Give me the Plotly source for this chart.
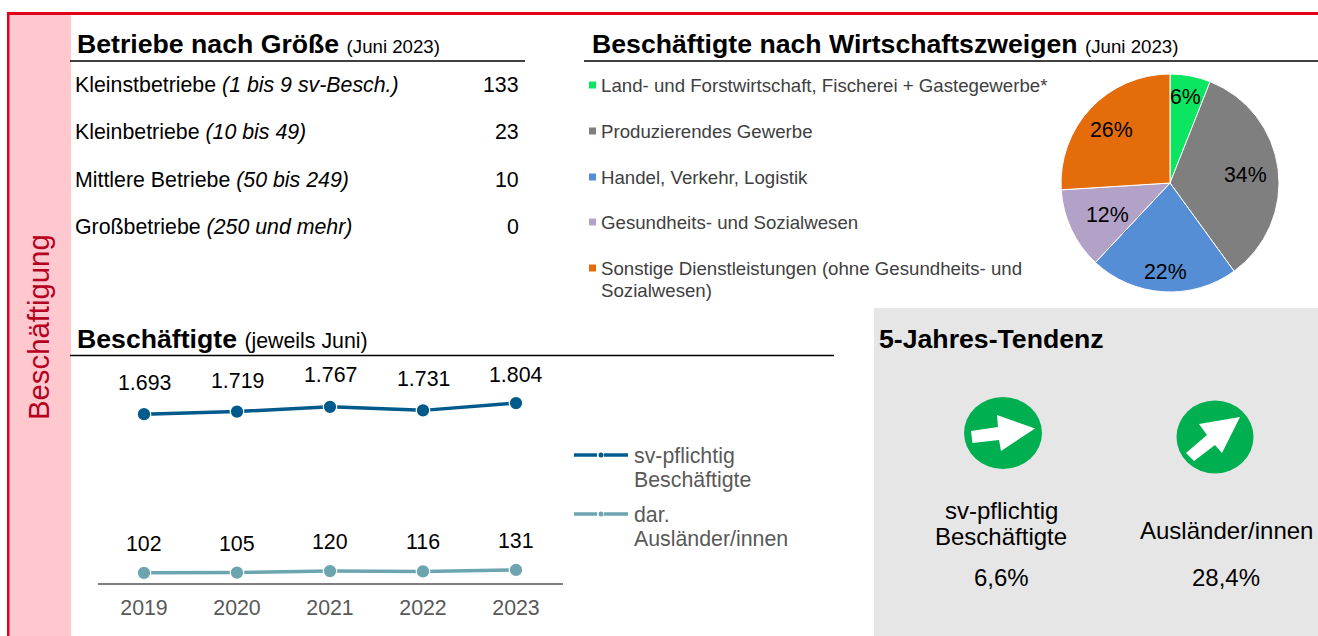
import plotly.graph_objects as go

W, H = 1318, 636
FONT = "Liberation Sans"

years = ["2019", "2020", "2021", "2022", "2023"]
beschaeftigte = [1693, 1719, 1767, 1731, 1804]
auslaender = [102, 105, 120, 116, 131]
beschaeftigte_labels = ["1.693", "1.719", "1.767", "1.731", "1.804"]
auslaender_labels = ["102", "105", "120", "116", "131"]
series_names = [["sv-pflichtig", "Beschäftigte"], ["dar.", "Ausländer/innen"]]

sectors = [["Land- und Forstwirtschaft, Fischerei + Gastegewerbe*"], ["Produzierendes Gewerbe"],
           ["Handel, Verkehr, Logistik"], ["Gesundheits- und Sozialwesen"],
           ["Sonstige Dienstleistungen (ohne Gesundheits- und", "Sozialwesen)"]]
sector_share = [6, 34, 22, 12, 26]
sector_colors = ["#0AE65F", "#7F7F7F", "#558ED5", "#B3A2C7", "#E46C0A"]

size_classes = ["Kleinstbetriebe <i>(1 bis 9 sv-Besch.)</i>", "Kleinbetriebe <i>(10 bis 49)</i>",
                "Mittlere Betriebe <i>(50 bis 249)</i>", "Großbetriebe <i>(250 und mehr)</i>"]
size_counts = [133, 23, 10, 0]

tendenz_names = [["sv-pflichtig", "Beschäftigte"], ["Ausländer/innen"]]
tendenz_values = ["6,6%", "28,4%"]

DARK, TEAL = "#005B8C", "#6CA5B0"


def px(x):
    return x / W


def py(y):
    return 1 - y / H


annotations, shapes = [], []


def text(x, y, s, size=18, color="#000000", anchor="left", angle=0):
    annotations.append(dict(x=px(x), y=py(y), xref="paper", yref="paper", text=s, showarrow=False,
                            xanchor=anchor, yanchor="middle", textangle=angle, align=anchor,
                            xshift={"left": -2, "right": 2, "center": 0}[anchor],
                            font=dict(family=FONT, size=size, color=color)))


def rect(x0, y0, x1, y1, color):
    shapes.append(dict(type="rect", xref="paper", yref="paper", x0=px(x0), x1=px(x1), y0=py(y0), y1=py(y1),
                       fillcolor=color, line_width=0, layer="below"))


def hline(x0, x1, y, color="#000000", width=1.3):
    shapes.append(dict(type="line", xref="paper", yref="paper", x0=px(x0), x1=px(x1), y0=py(y), y1=py(y),
                       line=dict(color=color, width=width)))


def ellipse(cx, cy, rx, ry, color):
    shapes.append(dict(type="circle", xref="paper", yref="paper", x0=px(cx - rx), x1=px(cx + rx),
                       y0=py(cy + ry), y1=py(cy - ry), fillcolor=color, line_width=0))


def polygon(points, color="#FFFFFF"):
    d = "M " + " L ".join(f"{px(a):.5f},{py(b):.5f}" for a, b in points) + " Z"
    shapes.append(dict(type="path", xref="paper", yref="paper", path=d, fillcolor=color, line_width=0))


# frame and panels
rect(9, 14, 71, 636, "#FFC7CE")
rect(874, 308, 1318, 636, "#E6E6E6")
rect(7, 12, 1318, 15, "#E2001A")
rect(7, 12, 9.5, 636, "#E2001A")
text(38, 327, "Beschäftigung", 29.3, "#B5001F", "center", -90)

# headings
hline(70, 525, 61)
hline(584, 1318, 61)
hline(70, 834, 355.5)
sub = '<span style="font-size:%spx">%s</span>'
text(77, 44, "<b>Betriebe nach Größe </b>" + sub % (18.67, "(Juni 2023)"), 26.67)
text(592, 44, "<b>Beschäftigte nach Wirtschaftszweigen </b>" + sub % (18.67, "(Juni 2023)"), 26.67)
text(77, 339, "<b>Beschäftigte </b>" + sub % (21.33, "(jeweils Juni)"), 26.67)
text(879, 339, "<b>5-Jahres-Tendenz</b>", 26.67)

# size table
for row_y, name, n in zip([85, 132, 180, 227], size_classes, size_counts):
    text(75, row_y, name, 21.33)
    text(519, row_y, str(n), 21.33, anchor="right")

# pie legend
for leg_y, lines, col in zip([85, 131, 177, 222, 268], sectors, sector_colors):
    rect(589, leg_y - 3.5, 596, leg_y + 3.5, col)
    for k, line in enumerate(lines):
        text(601, leg_y + 22 * k, line, 18.67, "#404040")

# pie labels
for (lx, ly), v in zip([(1185, 97), (1245, 175), (1165, 272), (1107, 215), (1111, 130)], sector_share):
    text(lx, ly, f"{v}%", 21.33, anchor="center")

# line chart labels, tied to the data through the axes
for i, (v, lab, shift) in enumerate(zip(beschaeftigte, beschaeftigte_labels, [31, 31, 32, 31, 28])):
    annotations.append(dict(x=i, y=v, xref="x", yref="y", text=lab, showarrow=False, yshift=shift,
                            font=dict(family=FONT, size=21.33, color="#000000")))
for i, (v, lab) in enumerate(zip(auslaender, auslaender_labels)):
    annotations.append(dict(x=i, y=v, xref="x", yref="y", text=lab, showarrow=False, yshift=29,
                            font=dict(family=FONT, size=21.33, color="#000000")))

# line chart legend
for leg_y, lines, col in zip([455, 514], series_names, [DARK, TEAL]):
    hline(574, 597, leg_y, col, 3.5)
    hline(604, 628, leg_y, col, 3.5)
    ellipse(601, leg_y, 2.5, 2.5, col)
    for k, line in enumerate(lines):
        text(634, leg_y + 1 + 24 * k, line, 21.33, "#595959")

# Tendenz panel
ellipse(1003, 433, 39, 36, "#00B050")
polygon([(971, 431), (972.5, 443), (999, 440), (1001, 451), (1035, 428.5), (997, 415), (998, 427)])
ellipse(1215, 437, 38.5, 36.5, "#00B050")
polygon([(1186, 453), (1194, 461), (1215, 445), (1222, 453), (1240, 417), (1199, 424), (1207, 435)])
for tx, lines, val in zip([1001, 1226], tendenz_names, tendenz_values):
    ys = [510, 536] if len(lines) == 2 else [530]
    for ty, line in zip(ys, lines):
        text(tx, ty, line, 24, anchor="center")
    text(tx, 577, val, 24, anchor="center")

fig = go.Figure()
fig.add_trace(go.Pie(labels=[" ".join(s) for s in sectors], values=sector_share, sort=False,
                     direction="clockwise", rotation=0, marker=dict(colors=sector_colors, line=dict(color="#FFFFFF", width=1)),
                     textinfo="none", showlegend=False, hoverinfo="label+percent",
                     domain=dict(x=[px(1060), px(1280)], y=[py(292), py(74)])))
for vals, col, name in [(beschaeftigte, DARK, series_names[0]), (auslaender, TEAL, series_names[1])]:
    fig.add_trace(go.Scatter(x=years, y=vals, mode="lines+markers", name=" ".join(name), showlegend=False,
                             line=dict(color=col, width=3.5),
                             marker=dict(color=col, size=13.5, line=dict(color="#FFFFFF", width=1.2)),
                             cliponaxis=False))

fig.update_layout(width=W, height=H, margin=dict(l=0, r=0, t=0, b=0), autosize=False,
                  paper_bgcolor="#FFFFFF", plot_bgcolor="rgba(0,0,0,0)", showlegend=False,
                  annotations=annotations, shapes=shapes,
                  xaxis=dict(domain=[px(97.5), px(562.5)], type="category", range=[-0.5, 4.5], showgrid=False, zeroline=False,
                             showline=True, linecolor="#7F7F7F", linewidth=1.5, ticks="", ticklabelstandoff=5,
                             tickfont=dict(family=FONT, size=21.33, color="#595959")),
                  yaxis=dict(domain=[py(583), py(363)], range=[0, 2206], visible=False))

fig.write_html("out.html", post_script="document.body.style.margin='0';", config=dict(displayModeBar=False))
